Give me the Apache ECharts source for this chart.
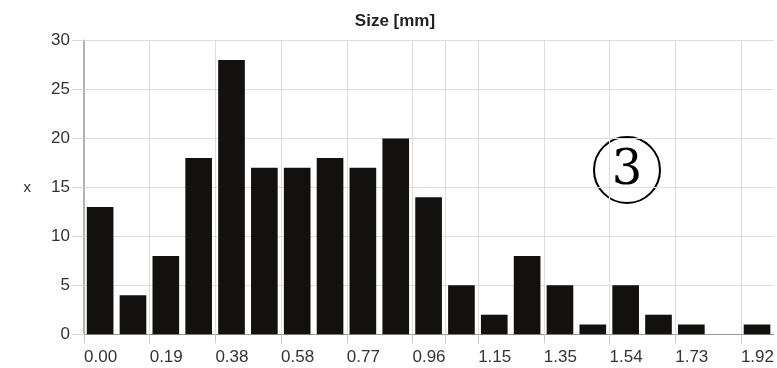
<!DOCTYPE html>
<html>
<head>
<meta charset="utf-8">
<script src="https://cdn.jsdelivr.net/npm/echarts@6/dist/echarts.min.js"></script>
<style>
html,body{margin:0;padding:0;background:#fff;}
#chart{width:777px;height:368px;}
</style>
</head>
<body>
<div id="chart"></div>
<script>
// Bin edges (mm) and counts per bin
var binStarts = [0.0000, 0.0962, 0.1924, 0.2886, 0.3848, 0.4810, 0.5772, 0.6734, 0.7696, 0.8658, 0.9620,
                 1.0582, 1.1544, 1.2506, 1.3468, 1.4430, 1.5392, 1.6354, 1.7316, 1.8278, 1.9240];
var binEnds   = [0.0962, 0.1924, 0.2886, 0.3848, 0.4810, 0.5772, 0.6734, 0.7696, 0.8658, 0.9620, 1.0582,
                 1.1544, 1.2506, 1.3468, 1.4430, 1.5392, 1.6354, 1.7316, 1.8278, 1.9240, 2.0202];
var counts    = [13, 4, 8, 18, 28, 17, 17, 18, 17, 20, 14, 5, 2, 8, 5, 1, 5, 2, 1, 0, 1];
// x ticks (mm) and their labels (the tick at 1.0582 carries no label)
var xTickValues = [0.0000, 0.1924, 0.3848, 0.5772, 0.7696, 0.9620, 1.0582, 1.1544, 1.3468, 1.5392, 1.7316, 1.9240];
var xTickLabels = ['0.00', '0.19', '0.38', '0.58', '0.77', '0.96', '', '1.15', '1.35', '1.54', '1.73', '1.92'];
var yTicks = [0, 5, 10, 15, 20, 25, 30];
var titleText = 'Size [mm]';
var yName = 'x';

var data = counts.map(function (c, i) { return [binStarts[i], binEnds[i], c]; });

var chart = echarts.init(document.getElementById('chart'), null, {renderer: 'canvas'});
var font = 'Liberation Sans, Arial, sans-serif';
var gridColor = '#e0dddd';
chart.setOption({
  animation: false,
  backgroundColor: '#ffffff',
  title: {
    text: titleText,
    left: 390,
    top: 8,
    textAlign: 'center',
    textStyle: {fontSize: 17, fontWeight: 'bold', color: '#222', fontFamily: font}
  },
  grid: {left: 84, right: 0, top: 40.5, bottom: 33.7, containLabel: false},
  xAxis: {
    type: 'value',
    min: binStarts[0],
    max: binEnds[binEnds.length - 1],
    axisLine: {show: true, onZero: false, lineStyle: {color: '#9a9a9a', width: 1}},
    axisTick: {show: true, length: 9, customValues: xTickValues, lineStyle: {color: '#c8c8c8'}},
    splitLine: {show: true, customValues: xTickValues, lineStyle: {color: gridColor, width: 1}},
    axisLabel: {
      margin: 15, fontSize: 17, color: '#333', fontFamily: font, align: 'left',
      customValues: xTickValues,
      formatter: function (v) {
        for (var i = 0; i < xTickValues.length; i++) {
          if (Math.abs(v - xTickValues[i]) < 1e-6) return xTickLabels[i];
        }
        return '';
      }
    }
  },
  yAxis: {
    type: 'value',
    min: yTicks[0],
    max: yTicks[yTicks.length - 1],
    interval: yTicks[1] - yTicks[0],
    name: yName,
    nameLocation: 'middle',
    nameGap: 53,
    nameRotate: 0,
    nameTextStyle: {fontSize: 15, color: '#333', fontFamily: font},
    axisLine: {show: true, lineStyle: {color: '#b4b1b1', width: 2}},
    axisTick: {show: true, length: 12, lineStyle: {color: '#d8d5d5'}},
    splitLine: {show: true, lineStyle: {color: gridColor, width: 1}},
    axisLabel: {margin: 14, fontSize: 17, color: '#333', fontFamily: font}
  },
  series: [{
    type: 'custom',
    data: data,
    encode: {x: [0, 1], y: 2},
    renderItem: function (params, api) {
      var p0 = api.coord([api.value(0), api.value(2)]);
      var p1 = api.coord([api.value(1), 0]);
      var x = p0[0] + 2.8;
      var w = (p1[0] - p0[0]) - 6.2;
      return {
        type: 'rect',
        shape: {x: x, y: p0[1], width: w, height: p1[1] - p0[1]},
        style: {fill: '#12110f'}
      };
    },
    z: 3
  }],
  graphic: [{
    type: 'group',
    left: 593,
    top: 136,
    children: [
      {type: 'circle', shape: {cx: 33.5, cy: 33.5, r: 33}, style: {fill: 'rgba(255,255,255,0)', stroke: '#000', lineWidth: 2}},
      {type: 'text', style: {text: '3', x: 33.5, y: 35, align: 'center', verticalAlign: 'middle',
        font: '48px "DejaVu Serif", "Liberation Serif", serif', fill: '#000'}}
    ]
  }]
});
</script>
</body>
</html>
